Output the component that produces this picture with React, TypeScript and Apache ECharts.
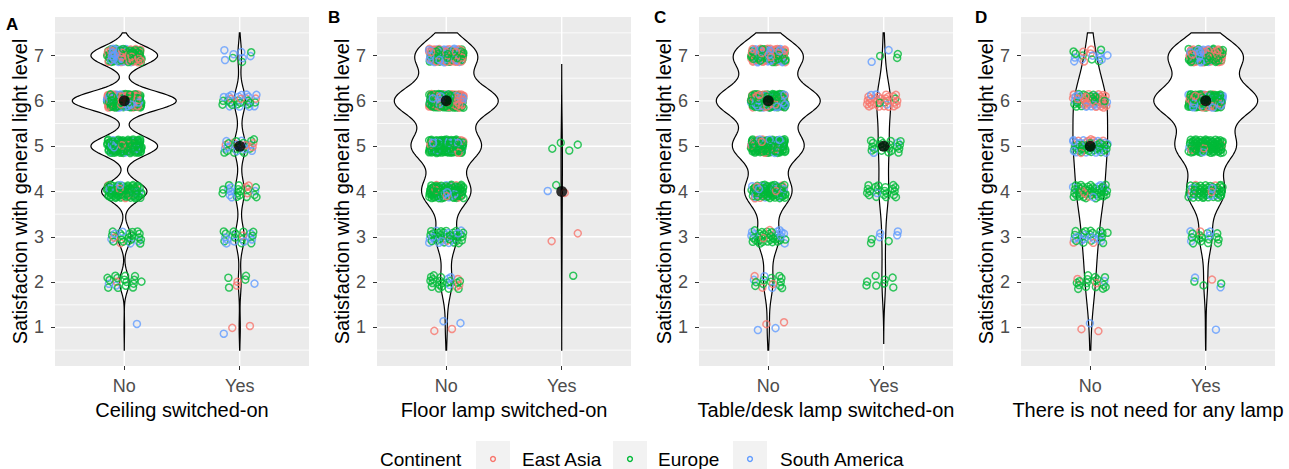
import React, { useEffect, useRef } from "react";
import * as echarts from "echarts";

// ---------- data ----------
const levels = [1, 2, 3, 4, 5, 6, 7];
const minorBreaks = [0.5, 1.5, 2.5, 3.5, 4.5, 5.5, 6.5, 7.5];
const groupLabels = ["No", "Yes"];
const continentNames = ["East Asia", "Europe", "South America"];
const continentColors = ["#F8766D", "#00BA38", "#619CFF"];
const panelLetters = ["A", "B", "C", "D"];
const xTitles = [
  "Ceiling switched-on",
  "Floor lamp switched-on",
  "Table/desk lamp switched-on",
  "There is not need for any lamp",
];
const yTitle = "Satisfaction with general light level";
const legendTitle = "Continent";

// respondents per satisfaction level 1..7
const aNoEastAsia = [0, 1, 2, 5, 6, 56, 40];
const aNoEurope = [0, 15, 18, 72, 108, 103, 55];
const aNoSouthAmerica = [1, 2, 5, 8, 11, 36, 30];
const aYesEastAsia = [2, 2, 1, 3, 6, 4, 0];
const aYesEurope = [0, 4, 12, 14, 12, 12, 3];
const aYesSouthAmerica = [1, 1, 9, 6, 10, 12, 6];

const bNoEastAsia = [2, 3, 1, 7, 12, 60, 40];
const bNoEurope = [0, 18, 30, 85, 116, 115, 58];
const bNoSouthAmerica = [2, 3, 14, 13, 21, 48, 36];
const bYesEastAsia = [0, 0, 2, 1, 0, 0, 0];
const bYesEurope = [0, 1, 0, 1, 4, 0, 0];
const bYesSouthAmerica = [0, 0, 0, 1, 0, 0, 0];

const cNoEastAsia = [2, 3, 3, 8, 12, 35, 40];
const cNoEurope = [0, 11, 27, 66, 100, 112, 55];
const cNoSouthAmerica = [2, 3, 10, 13, 19, 45, 34];
const cYesEastAsia = [0, 0, 0, 0, 0, 25, 0];
const cYesEurope = [0, 8, 3, 20, 20, 3, 3];
const cYesSouthAmerica = [0, 0, 4, 1, 2, 3, 2];

const dNoEastAsia = [2, 2, 2, 4, 8, 30, 4];
const dNoEurope = [0, 16, 16, 40, 34, 20, 6];
const dNoSouthAmerica = [1, 1, 10, 6, 18, 12, 8];
const dYesEastAsia = [0, 1, 1, 4, 4, 30, 36];
const dYesEurope = [0, 3, 14, 46, 86, 95, 52];
const dYesSouthAmerica = [1, 2, 4, 8, 3, 36, 28];

// kernel bandwidths of the violins [No, Yes]
const bandwidthA = [0.21, 0.28];
const bandwidthB = [0.35, 0.6];
const bandwidthC = [0.35, 0.45];
const bandwidthD = [0.55, 0.37];

const panelData = [
  { groups: [[aNoEastAsia, aNoEurope, aNoSouthAmerica], [aYesEastAsia, aYesEurope, aYesSouthAmerica]], bw: bandwidthA },
  { groups: [[bNoEastAsia, bNoEurope, bNoSouthAmerica], [bYesEastAsia, bYesEurope, bYesSouthAmerica]], bw: bandwidthB },
  { groups: [[cNoEastAsia, cNoEurope, cNoSouthAmerica], [cYesEastAsia, cYesEurope, cYesSouthAmerica]], bw: bandwidthC },
  { groups: [[dNoEastAsia, dNoEurope, dNoSouthAmerica], [dYesEastAsia, dYesEurope, dYesSouthAmerica]], bw: bandwidthD },
];

// ---------- layout ----------
const FONT = '"Liberation Sans", Arial, Helvetica, sans-serif';
const W = 1289;
const H = 469;
const GRID_LEFTS = [55, 377, 699, 1021];
const GRID_TOP = 17;
const GRID_W = 254;
const GRID_H = 349;
const LETTER_POS = [
  [6, 24],
  [328, 17],
  [654, 17],
  [975, 17],
];
const JITTER_W = 0.15;
const JITTER_H = 0.15;
const VIOLIN_WIDTH = 0.9;

// ---------- helpers ----------
const frac = (v: number) => v - Math.floor(v);
const sumLevels = (conts: number[][]) => levels.map((_, i) => conts.reduce((s, a) => s + a[i], 0));

function densityTimesN(counts: number[], bw: number, y: number) {
  let s = 0;
  levels.forEach((lv, i) => {
    const z = (y - lv) / bw;
    s += counts[i] * Math.exp(-0.5 * z * z);
  });
  return s / (bw * Math.sqrt(2 * Math.PI));
}

function rawProfile(counts: number[], bw: number) {
  const present = levels.filter((_, i) => counts[i] > 0);
  const lo = Math.max(0.5, Math.min(...present) - 3 * bw);
  const hi = Math.min(7.5, Math.max(...present) + 3 * bw);
  const steps = 240;
  const out: number[][] = [];
  for (let k = 0; k <= steps; k++) {
    const y = lo + ((hi - lo) * k) / steps;
    out.push([y, densityTimesN(counts, bw, y)]);
  }
  return out;
}

function medianOf(counts: number[]) {
  const n = counts.reduce((a, b) => a + b, 0);
  const at = (rank: number) => {
    let c = 0;
    for (let i = 0; i < counts.length; i++) {
      c += counts[i];
      if (rank < c) return levels[i];
    }
    return levels[levels.length - 1];
  };
  return n % 2 ? at((n - 1) / 2) : (at(n / 2 - 1) + at(n / 2)) / 2;
}

function jitterPoints(conts: number[][], gx: number, seed: number) {
  const pts: any[] = [];
  levels.forEach((lv, li) => {
    const items: { ci: number; key: number }[] = [];
    conts.forEach((arr, ci) => {
      const n = arr[li];
      for (let k = 0; k < n; k++) items.push({ ci, key: (k + 0.5) / n + ci * 0.0001 });
    });
    items.sort((a, b) => a.key - b.key);
    items.forEach((it, j) => {
      const u = frac(seed + li * 0.377 + (j + 1) * 0.7548776662);
      const v = frac(seed * 1.7 + li * 0.213 + (j + 1) * 0.569840291);
      pts.push({
        value: [gx + (2 * u - 1) * JITTER_W, lv + (2 * v - 1) * JITTER_H],
        itemStyle: { borderColor: continentColors[it.ci] },
      });
    });
  });
  return pts;
}

function buildOption() {
  const grids: any[] = [];
  const xAxes: any[] = [];
  const yAxes: any[] = [];
  const series: any[] = [];
  const graphics: any[] = [];

  panelData.forEach((p, pi) => {
    grids.push({
      left: GRID_LEFTS[pi],
      top: GRID_TOP,
      width: GRID_W,
      height: GRID_H,
      show: true,
      backgroundColor: "#EBEBEB",
      borderWidth: 0,
    });
    xAxes.push({
      type: "value",
      gridIndex: pi,
      min: 0.4,
      max: 2.6,
      axisLine: { show: false },
      splitLine: { show: false },
      axisTick: { show: true, customValues: [1, 2], length: 4, lineStyle: { color: "#333333", width: 1 } },
      axisLabel: {
        customValues: [1, 2],
        formatter: (v: number) => groupLabels[Math.round(v) - 1],
        color: "#4D4D4D",
        fontSize: 18,
        fontFamily: FONT,
        margin: 11,
      },
      name: xTitles[pi],
      nameLocation: "middle",
      nameGap: 34,
      nameTextStyle: { color: "#000", fontSize: 20, fontFamily: FONT },
    });
    yAxes.push({
      type: "value",
      gridIndex: pi,
      min: 0.15,
      max: 7.85,
      axisLine: { show: false },
      splitLine: { show: false },
      axisTick: { show: true, customValues: levels, length: 4, lineStyle: { color: "#333333", width: 1 } },
      axisLabel: { customValues: levels, color: "#4D4D4D", fontSize: 18, fontFamily: FONT, margin: 11 },
      name: yTitle,
      nameLocation: "middle",
      nameGap: 22,
      nameTextStyle: { color: "#000", fontSize: 20, fontFamily: FONT },
    });

    // gridlines
    const gridItems: number[][] = [];
    minorBreaks.forEach((v) => gridItems.push([1.5, v, 0, 0.8]));
    levels.forEach((v) => gridItems.push([1.5, v, 0, 1.4]));
    [1, 2].forEach((v) => gridItems.push([v, 4, 1, 1.4]));
    series.push({
      type: "custom",
      xAxisIndex: pi,
      yAxisIndex: pi,
      silent: true,
      z: 1,
      data: gridItems,
      renderItem: (params: any, api: any) => {
        const cs = params.coordSys;
        const pt = api.coord([api.value(0), api.value(1)]);
        const o = api.value(2);
        const w = api.value(3);
        if (o === 0) {
          return {
            type: "line",
            shape: { x1: cs.x, y1: pt[1], x2: cs.x + cs.width, y2: pt[1] },
            style: { stroke: "#FFFFFF", lineWidth: w },
          };
        }
        return {
          type: "line",
          shape: { x1: pt[0], y1: cs.y, x2: pt[0], y2: cs.y + cs.height },
          style: { stroke: "#FFFFFF", lineWidth: w },
        };
      },
    });

    // violins
    const totals = p.groups.map((g) => sumLevels(g));
    const raws = totals.map((t, gi) => rawProfile(t, p.bw[gi]));
    const maxD = Math.max(...raws.map((r) => Math.max(...r.map((q) => q[1]))));
    const profs = raws.map((r) => r.map(([y, d]) => [y, (VIOLIN_WIDTH / 2) * (d / maxD)]));
    series.push({
      type: "custom",
      xAxisIndex: pi,
      yAxisIndex: pi,
      silent: true,
      z: 2,
      data: [
        [1, 4],
        [2, 4],
      ],
      renderItem: (params: any, api: any) => {
        const gx = api.value(0);
        const prof = profs[gx - 1];
        const right = prof.map(([y, w]) => api.coord([gx + w, y]));
        const left = prof
          .slice()
          .reverse()
          .map(([y, w]) => api.coord([gx - w, y]));
        return {
          type: "polygon",
          shape: { points: right.concat(left) },
          style: { fill: "#FFFFFF", stroke: "#000000", lineWidth: 1.2 },
        };
      },
    });

    // jittered points
    const pts = [
      ...jitterPoints(p.groups[0], 1, 0.11 + pi * 0.29),
      ...jitterPoints(p.groups[1], 2, 0.53 + pi * 0.17),
    ];
    series.push({
      type: "scatter",
      xAxisIndex: pi,
      yAxisIndex: pi,
      silent: true,
      z: 3,
      progressive: 0,
      symbol: "circle",
      symbolSize: 7,
      itemStyle: { color: "rgba(0,0,0,0)", borderWidth: 1.5 },
      data: pts,
    });

    // medians
    series.push({
      type: "scatter",
      xAxisIndex: pi,
      yAxisIndex: pi,
      silent: true,
      z: 4,
      symbol: "circle",
      symbolSize: 11,
      itemStyle: { color: "#000000" },
      data: totals.map((t, gi) => [gi + 1, medianOf(t)]),
    });

    graphics.push({
      type: "text",
      x: LETTER_POS[pi][0],
      y: LETTER_POS[pi][1],
      style: {
        text: panelLetters[pi],
        font: 'bold 17px "Liberation Sans", Arial, sans-serif',
        fill: "#000",
        textAlign: "left",
        textVerticalAlign: "middle",
      },
    });
  });

  // legend
  const legY = 459;
  const keyLefts = [476, 613, 733];
  const labelLefts = [522, 658, 780];
  graphics.push({
    type: "text",
    x: 380,
    y: legY,
    style: { text: legendTitle, fontSize: 19, fontFamily: FONT, fill: "#000", textAlign: "left", textVerticalAlign: "middle" },
  });
  continentNames.forEach((name, i) => {
    graphics.push({
      type: "rect",
      shape: { x: keyLefts[i], y: 441, width: 34, height: 36 },
      style: { fill: "#F2F2F2" },
    });
    graphics.push({
      type: "circle",
      shape: { cx: keyLefts[i] + 17, cy: legY, r: 2.4 },
      style: { fill: "none", stroke: continentColors[i], lineWidth: 1.4 },
    });
    graphics.push({
      type: "text",
      x: labelLefts[i],
      y: legY,
      style: { text: name, fontSize: 19, fontFamily: FONT, fill: "#000", textAlign: "left", textVerticalAlign: "middle" },
    });
  });

  return {
    animation: false,
    backgroundColor: "#FFFFFF",
    grid: grids,
    xAxis: xAxes,
    yAxis: yAxes,
    series,
    graphic: graphics,
  };
}

export default function App() {
  const ref = useRef<HTMLDivElement>(null);
  useEffect(() => {
    document.body.style.margin = "0";
    document.body.style.overflow = "hidden";
    if (!ref.current) return;
    const chart = echarts.init(ref.current, null, { renderer: "svg" });
    chart.setOption(buildOption() as any);
    return () => chart.dispose();
  }, []);
  return <div ref={ref} style={{ width: W, height: H }} />;
}
